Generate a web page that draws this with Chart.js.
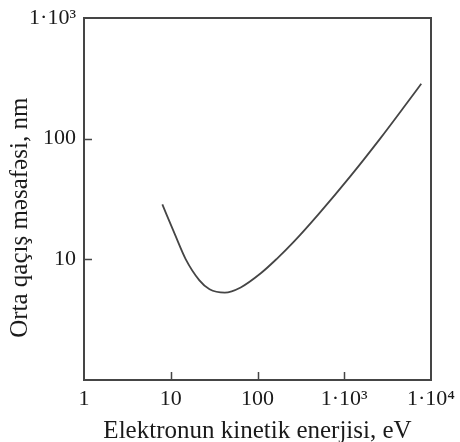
<!DOCTYPE html>
<html>
<head>
<meta charset="utf-8">
<script src="https://cdn.jsdelivr.net/npm/chart.js@4/dist/chart.umd.min.js"></script>
<style>
  html, body { margin: 0; padding: 0; background: #fff; }
  #wrap { width: 460px; height: 442px; }
</style>
</head>
<body>
<div id="wrap"><canvas id="mfp"></canvas></div>
<script>
// Electron kinetic energy (eV) and mean free path (nm)
const energy = [8, 11.2, 14.8, 21.4, 28, 42, 64, 110, 167, 258, 509, 1180, 2580, 4830, 7720];
const pathLength = [28.5, 16, 10.1, 6.7, 5.65, 5.3, 5.85, 7.7, 10.1, 13.8, 23.8, 48.9, 99.6, 181, 285];

const xTickValues = [1, 10, 100, 1000, 10000];
const xTickLabels = ['1', '10', '100', '1·10³', '1·10⁴'];
const yTickValues = [10, 100, 1000];
const yTickLabels = ['10', '100', '1·10³'];

const ink = '#1a1a1a';
const lineColor = '#454545';
const serif = "'Liberation Serif', 'Times New Roman', serif";

// box around the plot plus short ticks pointing inward
const framePlugin = {
    id: 'frame',
    afterDatasetsDraw(chart) {
        const { ctx, chartArea: a, scales } = chart;
        ctx.save();
        ctx.strokeStyle = lineColor;
        ctx.lineWidth = 2;
        ctx.strokeRect(a.left, a.top, a.right - a.left, a.bottom - a.top);
        ctx.lineWidth = 1.5;
        ctx.beginPath();
        xTickValues.slice(1, -1).forEach(v => {
            const px = Math.round(scales.x.getPixelForValue(v)) + 0.5;
            ctx.moveTo(px, a.bottom);
            ctx.lineTo(px, a.bottom - 8);
        });
        yTickValues.slice(0, -1).forEach(v => {
            const py = Math.round(scales.y.getPixelForValue(v)) + 0.5;
            ctx.moveTo(a.left, py);
            ctx.lineTo(a.left + 8, py);
        });
        ctx.stroke();
        ctx.restore();
    }
};

const points = energy.map((e, i) => ({ x: e, y: pathLength[i] }));

new Chart(document.getElementById('mfp'), {
    type: 'scatter',
    data: {
        datasets: [{
            data: points,
            showLine: true,
            borderColor: lineColor,
            borderWidth: 1.8,
            pointRadius: 0,
            cubicInterpolationMode: 'monotone'
        }]
    },
    options: {
        responsive: true,
        maintainAspectRatio: false,
        animation: false,
        layout: { padding: { top: 18, right: 29, left: 0, bottom: 0 } },
        plugins: {
            legend: { display: false },
            tooltip: { enabled: false }
        },
        scales: {
            x: {
                type: 'logarithmic',
                min: 1,
                max: 10000,
                grid: { display: false, drawTicks: false },
                border: { display: false },
                afterBuildTicks: scale => {
                    scale.ticks = xTickValues.map(v => ({ value: v }));
                },
                afterFit: scale => {
                    scale.height = 62;
                    scale.paddingLeft = 0;
                    scale.paddingRight = 0;
                },
                ticks: {
                    color: ink,
                    padding: 6,
                    maxRotation: 0,
                    autoSkip: false,
                    font: { family: serif, size: 22 },
                    callback: value => xTickLabels[xTickValues.indexOf(value)] ?? ''
                },
                title: {
                    display: true,
                    text: 'Elektronun kinetik enerjisi, eV',
                    color: ink,
                    padding: { top: 0, bottom: -2 },
                    font: { family: serif, size: 25, lineHeight: 1 }
                }
            },
            y: {
                type: 'logarithmic',
                min: 1,
                max: 1000,
                grid: { display: false, drawTicks: false },
                border: { display: false },
                afterBuildTicks: scale => {
                    scale.ticks = yTickValues.map(v => ({ value: v }));
                },
                afterFit: scale => {
                    scale.width = 84;
                    scale.paddingTop = 0;
                    scale.paddingBottom = 0;
                },
                ticks: {
                    color: ink,
                    padding: 8,
                    autoSkip: false,
                    font: { family: serif, size: 22 },
                    callback: value => yTickLabels[yTickValues.indexOf(value)] ?? ''
                },
                title: {
                    display: true,
                    // trailing spaces push the rotated title a little lower
                    text: 'Orta qaçış məsafəsi, nm      ',
                    color: ink,
                    padding: { top: 8, bottom: 0 },
                    font: { family: serif, size: 25, lineHeight: 1 }
                }
            }
        }
    },
    plugins: [framePlugin]
});
</script>
</body>
</html>
